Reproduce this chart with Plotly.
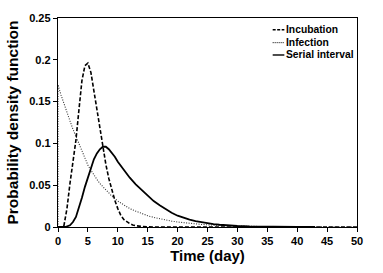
import plotly.graph_objects as go

# ---- data ----
incub_x = [0, 0.5, 0.8, 1.0, 1.5, 2.0, 2.5, 3.0, 3.5, 4.0, 4.5, 5.0, 5.5, 6.0, 6.5, 7.0, 7.5,
           8.0, 8.5, 9.0, 9.5, 10.0, 10.5, 11.0, 11.5, 12.0, 12.5, 13.0, 14.0, 15.0, 16.0, 50]
incub_y = [0, 0, 0, 0.002, 0.022, 0.052, 0.078, 0.104, 0.140, 0.175, 0.193, 0.196, 0.185, 0.163,
           0.138, 0.115, 0.094, 0.075, 0.058, 0.044, 0.032, 0.022, 0.014, 0.009, 0.006, 0.004,
           0.0025, 0.0015, 0.0006, 0.0002, 0, 0]

infect_x = [0, 0, 0.5, 1, 1.5, 2, 2.5, 3, 3.5, 4, 4.5, 5, 5.5, 6, 6.5, 7, 7.5, 8, 9, 10, 11, 12, 13,
            14, 15, 16, 17, 18, 19, 20, 22, 24, 26, 28, 30, 32, 35, 40, 45, 50]
infect_y = [0, 0.170, 0.158, 0.147, 0.137, 0.127, 0.117, 0.108, 0.099, 0.090, 0.082, 0.074, 0.068,
            0.062, 0.057, 0.052, 0.048, 0.044, 0.037, 0.031, 0.026, 0.022, 0.019, 0.016, 0.0135,
            0.0115, 0.0098, 0.0083, 0.007, 0.006, 0.0043, 0.0031, 0.0022, 0.0016, 0.0011, 0.0008,
            0.0005, 0.0002, 0.0001, 0]

serial_x = [0, 1.2, 2.0, 2.5, 3.0, 3.5, 4.0, 4.5, 5.0, 5.5, 6.0, 6.5, 7.0, 7.5, 8.0, 8.5, 9.0, 9.5,
            10.0, 10.5, 11, 12, 13, 14, 15, 16, 17, 18, 19, 20, 21, 22, 23, 24, 25, 26, 27, 28, 29,
            30, 32, 34, 37, 40, 43]
serial_y = [0, 0, 0.002, 0.006, 0.012, 0.023, 0.035, 0.048, 0.060, 0.072, 0.081, 0.088, 0.093,
            0.096, 0.096, 0.093, 0.089, 0.084, 0.078, 0.073, 0.068, 0.059, 0.051, 0.044, 0.037,
            0.031, 0.026, 0.021, 0.017, 0.0135, 0.011, 0.0088, 0.007, 0.0055, 0.0043, 0.0034,
            0.0027, 0.0021, 0.0016, 0.0012, 0.0007, 0.0004, 0.0002, 0.0001, 0]

x_ticks = [0, 5, 10, 15, 20, 25, 30, 35, 40, 45, 50]
y_ticks = [0, 0.05, 0.1, 0.15, 0.2, 0.25]
y_tick_labels = ["0", "0.05", "0.1", "0.15", "0.2", "0.25"]

series_names = ["Incubation", "Infection", "Serial interval"]

FONT = "Liberation Sans, Arial, sans-serif"

fig = go.Figure()
fig.add_trace(go.Scatter(x=incub_x, y=incub_y, mode="lines", name=series_names[0],
                         line=dict(color="black", width=1.6, dash="4px,2px")))
fig.add_trace(go.Scatter(x=infect_x, y=infect_y, mode="lines", name=series_names[1],
                         line=dict(color="#333333", width=1.1, dash="1px,1.5px")))
fig.add_trace(go.Scatter(x=serial_x, y=serial_y, mode="lines", name=series_names[2],
                         line=dict(color="black", width=1.8)))

# manual legend (short line samples, text to the right)
leg_y = [0.944, 0.882, 0.823]
for i, nm in enumerate(series_names):
    fig.add_shape(type="line", xref="paper", yref="paper",
                  x0=0.718, x1=0.757, y0=leg_y[i], y1=leg_y[i],
                  line=dict(color="black", width=1.4 if i != 1 else 1.0,
                            dash=["3px,1.5px", "1px,1px", "solid"][i]))
    fig.add_annotation(x=0.757, y=leg_y[i], xref="paper", yref="paper", text="<b>%s</b>" % nm,
                       showarrow=False, xanchor="left", yanchor="middle",
                       font=dict(family=FONT, size=10.3, color="black"))

fig.update_layout(
    width=383, height=273,
    margin=dict(l=57, r=26, t=13, b=43),
    paper_bgcolor="white", plot_bgcolor="white",
    showlegend=False,
    font=dict(family=FONT, color="black"),
)
fig.update_xaxes(range=[0, 50], tickvals=x_ticks, ticktext=["<b>%d</b>" % v for v in x_ticks],
                 ticks="outside", ticklen=4, tickwidth=1.2, tickcolor="black",
                 showline=True, linecolor="black", linewidth=1.4, mirror=True,
                 showgrid=False, zeroline=False,
                 tickfont=dict(family=FONT, size=11, color="black"),
                 title=dict(text="<b>Time (day)</b>", font=dict(family=FONT, size=15, color="black"),
                            standoff=3))
fig.update_yaxes(range=[0, 0.25], tickvals=y_ticks, ticktext=["<b>%s</b>" % t for t in y_tick_labels],
                 ticks="outside", ticklen=4, tickwidth=1.2, tickcolor="black",
                 showline=True, linecolor="black", linewidth=1.4, mirror=True,
                 showgrid=False, zeroline=False,
                 tickfont=dict(family=FONT, size=11, color="black"),
                 title=dict(text="<b>Probability density function</b>",
                            font=dict(family=FONT, size=15.5, color="black"), standoff=6))

fig.write_html("out.html", config={"displayModeBar": False},
               post_script="document.body.style.margin='0';document.body.style.overflow='hidden';")
